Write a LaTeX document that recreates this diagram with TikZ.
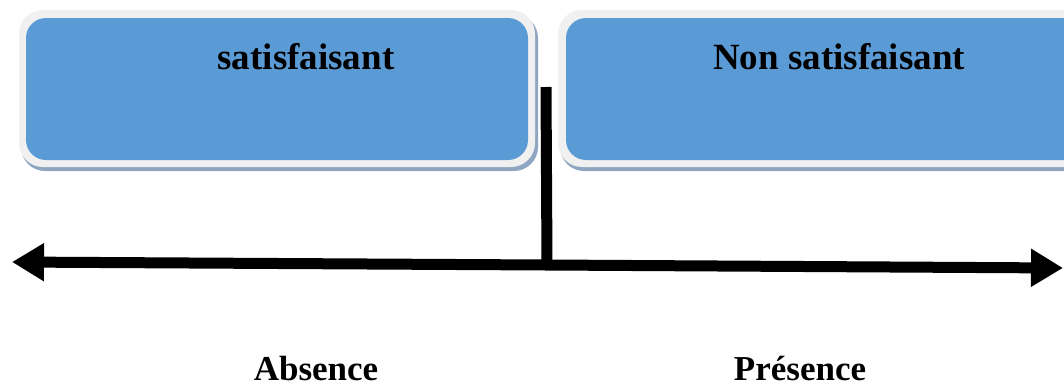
\documentclass[tikz,border=0pt]{standalone}
\usepackage{fontspec}
\setmainfont{Liberation Serif}
\usetikzlibrary{arrows.meta,calc}
\definecolor{boxblue}{HTML}{5B9BD5}
\definecolor{framegray}{HTML}{F0F0F0}
\definecolor{shadowblue}{HTML}{8EA6C1}
\begin{document}
\begin{tikzpicture}[x=1pt,y=-1pt,
  shadowbox/.style={draw=none,fill=shadowblue,rounded corners=24pt},
  framebox/.style={draw=none,fill=framegray,rounded corners=24pt},
  bluebox/.style={draw=none,fill=boxblue,rounded corners=20pt},
  toplabel/.style={font=\fontsize{37}{40}\selectfont\bfseries,anchor=base,inner sep=0pt},
  botlabel/.style={font=\fontsize{35}{38}\selectfont\bfseries,anchor=base,inner sep=0pt},
  axis/.style={line width=11pt,-{Triangle[length=32pt,width=36pt]}},
  stem/.style={line width=11pt}]
\useasboundingbox (0,0) rectangle (1064,388);
% left box
\fill[shadowbox] (21,14) rectangle (538,171);
\fill[framebox] (19,10) rectangle (535,167);
\node[bluebox,minimum width=502pt,minimum height=142pt,inner sep=0pt] (lbox) at (277,89) {};
% right box
\fill[shadowbox] (560,14) rectangle (1090,171);
\fill[framebox] (558,10) rectangle (1088,167);
\node[bluebox,minimum width=520pt,minimum height=142pt,inner sep=0pt] (rbox) at (826,89) {};
\node[toplabel] (lt) at (306,69) {satisfaisant};
\node[toplabel] (rt) at (839,69) {Non satisfaisant};
% axis
\coordinate (L) at (12,262);
\coordinate (R) at (1063,268);
\coordinate (M) at (546,265);
\coordinate (T) at (546,87);
\draw[axis] (M) -- (L);
\draw[axis] (M) -- (R);
\draw[stem] (T) -- ($(M)+(1,0)$);
\node[botlabel] (ab) at (316,380) {Absence};
\node[botlabel] (pr) at (800,380) {Présence};
\end{tikzpicture}
\end{document}
